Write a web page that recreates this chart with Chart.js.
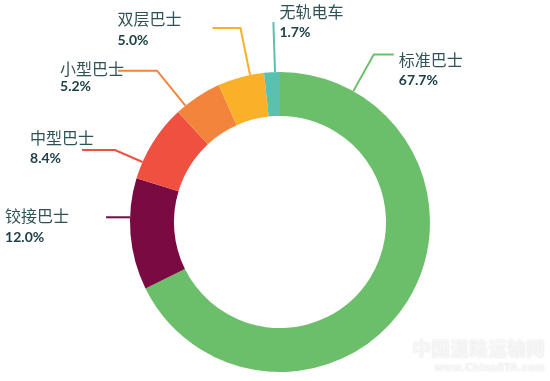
<!DOCTYPE html>
<html><head><meta charset="utf-8">
<script src="https://cdn.jsdelivr.net/npm/chart.js@4"></script>
<style>html,body{margin:0;padding:0;background:#fff}#wrap{width:550px;height:381px;position:relative}</style>
</head><body>
<div id="wrap"><canvas id="c" width="550" height="381"></canvas></div>
<script>
const categories = ['标准巴士','铰接巴士','中型巴士','小型巴士','双层巴士','无轨电车'];
const shares = [67.7, 12.0, 8.4, 5.2, 5.0, 1.7];
const percentLabels = ['67.7%','12.0%','8.4%','5.2%','5.0%','1.7%'];
const colors = ['#6cbf6a','#7a0a42','#ef5040','#f2853b','#fbb02a','#5cc0b0'];

// leader-line / label layout: f = position inside slice, L = radial length, H = horizontal length,
// tx/ty1/ty2 = text offset from the line end
const layout = [
  {f:0.12, L:42, H:20,  tx:5,    ty1:5,   ty2:26},
  {f:0.65, L:0,  H:-24, tx:-101, ty1:-1,  ty2:20},
  {f:0.22, L:30, H:-33, tx:-52,  ty1:-12, ty2:8},
  {f:0.20, L:45, H:-39, tx:-58,  ty1:-2,  ty2:16},
  {f:0.70, L:48, H:-28, tx:-95,  ty1:-9,  ty2:12},
  {f:0.69, L:50, H:0,   tx:6,    ty1:-10, ty2:10}
];

const labelPlugin = {
  id:'leaderLabels',
  afterDatasetsDraw(chart){
    const ctx = chart.ctx;
    const meta = chart.getDatasetMeta(0);
    meta.data.forEach((arc,i)=>{
      const p = arc.getProps(['x','y','startAngle','endAngle','outerRadius'], true);
      const lay = layout[i];
      const a = p.startAngle + lay.f*(p.endAngle-p.startAngle);
      const x0 = p.x + p.outerRadius*Math.cos(a), y0 = p.y + p.outerRadius*Math.sin(a);
      const x1 = p.x + (p.outerRadius+lay.L)*Math.cos(a), y1 = p.y + (p.outerRadius+lay.L)*Math.sin(a);
      const x2 = x1 + lay.H, y2 = y1;
      ctx.save();
      ctx.strokeStyle = colors[i];
      ctx.lineWidth = 2;
      ctx.lineJoin = 'miter';
      ctx.beginPath();
      ctx.moveTo(x0,y0); ctx.lineTo(x1,y1); ctx.lineTo(x2,y2);
      ctx.stroke();
      ctx.textBaseline = 'middle';
      ctx.textAlign = 'left';
      ctx.fillStyle = '#2f5257';
      ctx.font = '16px "Noto Sans CJK SC"';
      ctx.fillText(categories[i], x2+lay.tx, y2+lay.ty1);
      ctx.fillStyle = '#1c4147';
      ctx.font = 'bold 14px Lato';
      ctx.fillText(percentLabels[i], x2+lay.tx, y2+lay.ty2);
      ctx.restore();
    });
    // faint watermark
    ctx.save();
    ctx.textAlign = 'right';
    ctx.textBaseline = 'middle';
    ctx.shadowColor = 'rgba(0,0,0,0.12)';
    ctx.shadowBlur = 2;
    ctx.fillStyle = '#f6f6f6';
    ctx.font = 'bold 19px "Noto Sans CJK SC"';
    ctx.fillText('中国道路运输网', 545, 349);
    ctx.font = 'bold 10px "DejaVu Sans"';
    ctx.fillText('www.ChinaRTA.com', 545, 368);
    ctx.restore();
  }
};

new Chart(document.getElementById('c'), {
  type:'doughnut',
  data:{ labels:categories, datasets:[{ data:shares, backgroundColor:colors, borderWidth:0 }] },
  options:{
    responsive:false, animation:false, devicePixelRatioOverride:1,
    cutout:'70.7%', rotation:0,
    layout:{ padding:{ top:72, bottom:9, left:130, right:120 } },
    plugins:{ legend:{display:false}, tooltip:{enabled:false} }
  },
  plugins:[labelPlugin]
});
</script>
</body></html>
